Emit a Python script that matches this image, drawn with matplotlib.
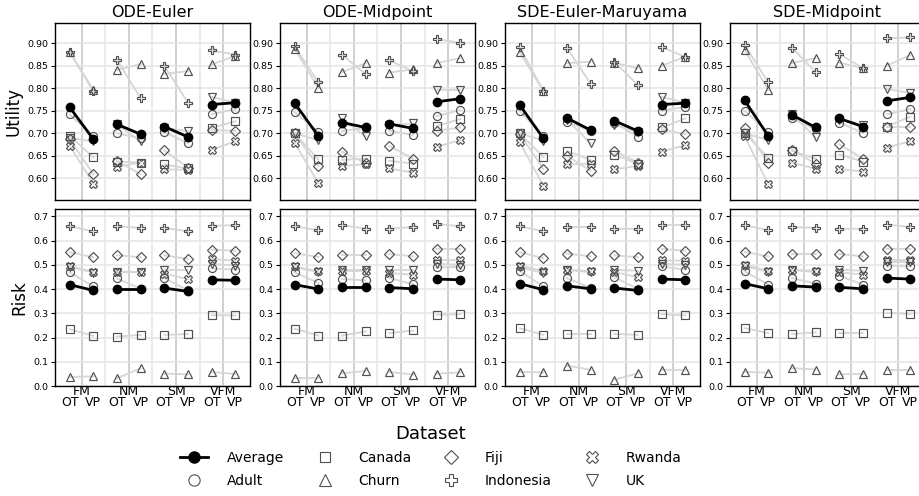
import matplotlib
matplotlib.use("Agg")
import matplotlib.pyplot as plt
from matplotlib.lines import Line2D

# columns: FM OT, FM VP, NM OT, NM VP, SM OT, SM VP, VFM OT, VFM VP
solvers = ["ODE-Euler", "ODE-Midpoint", "SDE-Euler-Maruyama", "SDE-Midpoint"]
datasets = ["Adult", "Canada", "Churn", "Fiji", "Indonesia", "Rwanda", "UK"]
groups = ["FM", "NM", "SM", "VFM"]
modes = ["OT", "VP"]

utility_ode_euler = {
    "Average":   [0.758, 0.687, 0.720, 0.698, 0.715, 0.692, 0.764, 0.768],
    "Adult":     [0.742, 0.693, 0.700, 0.689, 0.703, 0.678, 0.742, 0.754],
    "Canada":    [0.694, 0.647, 0.637, 0.635, 0.631, 0.622, 0.712, 0.727],
    "Churn":     [0.880, 0.797, 0.841, 0.854, 0.832, 0.838, 0.853, 0.872],
    "Fiji":      [0.687, 0.609, 0.639, 0.609, 0.662, 0.624, 0.707, 0.706],
    "Indonesia": [0.881, 0.793, 0.863, 0.778, 0.850, 0.768, 0.884, 0.875],
    "Rwanda":    [0.673, 0.588, 0.626, 0.635, 0.620, 0.619, 0.664, 0.682],
    "UK":        [0.690, 0.682, 0.720, 0.682, 0.712, 0.705, 0.781, 0.768],
}
utility_ode_midpoint = {
    "Average":   [0.767, 0.694, 0.724, 0.713, 0.721, 0.711, 0.770, 0.777],
    "Adult":     [0.747, 0.704, 0.705, 0.712, 0.706, 0.696, 0.738, 0.752],
    "Canada":    [0.700, 0.642, 0.641, 0.644, 0.639, 0.633, 0.716, 0.732],
    "Churn":     [0.888, 0.801, 0.836, 0.856, 0.835, 0.842, 0.856, 0.867],
    "Fiji":      [0.700, 0.627, 0.659, 0.634, 0.672, 0.644, 0.706, 0.713],
    "Indonesia": [0.893, 0.813, 0.874, 0.832, 0.862, 0.838, 0.909, 0.901],
    "Rwanda":    [0.679, 0.589, 0.628, 0.631, 0.622, 0.613, 0.670, 0.685],
    "UK":        [0.700, 0.685, 0.733, 0.693, 0.718, 0.722, 0.796, 0.796],
}
utility_sde_em = {
    "Average":   [0.763, 0.689, 0.734, 0.707, 0.728, 0.705, 0.764, 0.767],
    "Adult":     [0.750, 0.693, 0.726, 0.705, 0.724, 0.692, 0.750, 0.759],
    "Canada":    [0.700, 0.648, 0.661, 0.641, 0.653, 0.632, 0.713, 0.733],
    "Churn":     [0.880, 0.794, 0.856, 0.859, 0.857, 0.844, 0.850, 0.870],
    "Fiji":      [0.699, 0.621, 0.650, 0.617, 0.661, 0.635, 0.709, 0.698],
    "Indonesia": [0.891, 0.794, 0.890, 0.810, 0.859, 0.807, 0.891, 0.870],
    "Rwanda":    [0.680, 0.584, 0.631, 0.633, 0.620, 0.628, 0.659, 0.674],
    "UK":        [0.700, 0.684, 0.730, 0.678, 0.719, 0.703, 0.781, 0.768],
}
utility_sde_midpoint = {
    "Average":   [0.773, 0.694, 0.741, 0.713, 0.733, 0.715, 0.772, 0.780],
    "Adult":     [0.750, 0.702, 0.733, 0.709, 0.724, 0.701, 0.742, 0.754],
    "Canada":    [0.700, 0.646, 0.661, 0.644, 0.653, 0.637, 0.715, 0.737],
    "Churn":     [0.885, 0.796, 0.856, 0.867, 0.857, 0.845, 0.850, 0.874],
    "Fiji":      [0.711, 0.635, 0.664, 0.632, 0.676, 0.644, 0.715, 0.715],
    "Indonesia": [0.896, 0.813, 0.890, 0.836, 0.876, 0.845, 0.911, 0.913],
    "Rwanda":    [0.693, 0.587, 0.635, 0.621, 0.621, 0.615, 0.668, 0.683],
    "UK":        [0.700, 0.685, 0.742, 0.691, 0.730, 0.719, 0.798, 0.790],
}

risk_ode_euler = {
    "Average":   [0.418, 0.394, 0.401, 0.401, 0.404, 0.390, 0.438, 0.436],
    "Adult":     [0.469, 0.411, 0.444, 0.401, 0.445, 0.395, 0.485, 0.480],
    "Canada":    [0.234, 0.207, 0.204, 0.211, 0.211, 0.214, 0.292, 0.291],
    "Churn":     [0.037, 0.040, 0.032, 0.073, 0.051, 0.048, 0.058, 0.049],
    "Fiji":      [0.551, 0.531, 0.539, 0.531, 0.539, 0.524, 0.562, 0.558],
    "Indonesia": [0.659, 0.638, 0.659, 0.652, 0.652, 0.638, 0.661, 0.663],
    "Rwanda":    [0.496, 0.470, 0.470, 0.469, 0.463, 0.441, 0.524, 0.517],
    "UK":        [0.490, 0.468, 0.472, 0.470, 0.480, 0.477, 0.504, 0.496],
}
risk_ode_midpoint = {
    "Average":   [0.418, 0.400, 0.408, 0.408, 0.406, 0.401, 0.441, 0.438],
    "Adult":     [0.469, 0.425, 0.441, 0.436, 0.445, 0.420, 0.489, 0.491],
    "Canada":    [0.236, 0.208, 0.208, 0.225, 0.218, 0.229, 0.294, 0.296],
    "Churn":     [0.033, 0.033, 0.052, 0.062, 0.058, 0.047, 0.051, 0.056],
    "Fiji":      [0.548, 0.532, 0.539, 0.539, 0.544, 0.535, 0.566, 0.565],
    "Indonesia": [0.659, 0.642, 0.663, 0.649, 0.649, 0.655, 0.668, 0.659],
    "Rwanda":    [0.493, 0.473, 0.475, 0.475, 0.466, 0.459, 0.521, 0.518],
    "UK":        [0.490, 0.470, 0.477, 0.477, 0.480, 0.480, 0.504, 0.500],
}
risk_sde_em = {
    "Average":   [0.422, 0.397, 0.413, 0.401, 0.404, 0.394, 0.441, 0.438],
    "Adult":     [0.475, 0.411, 0.445, 0.405, 0.449, 0.400, 0.493, 0.480],
    "Canada":    [0.238, 0.211, 0.214, 0.214, 0.215, 0.211, 0.296, 0.291],
    "Churn":     [0.058, 0.056, 0.084, 0.067, 0.026, 0.052, 0.067, 0.066],
    "Fiji":      [0.551, 0.528, 0.546, 0.535, 0.539, 0.531, 0.565, 0.558],
    "Indonesia": [0.659, 0.638, 0.655, 0.655, 0.649, 0.648, 0.663, 0.663],
    "Rwanda":    [0.496, 0.475, 0.480, 0.473, 0.470, 0.449, 0.518, 0.517],
    "UK":        [0.490, 0.466, 0.478, 0.470, 0.480, 0.475, 0.504, 0.500],
}
risk_sde_midpoint = {
    "Average":   [0.422, 0.401, 0.413, 0.408, 0.407, 0.401, 0.445, 0.441],
    "Adult":     [0.473, 0.418, 0.445, 0.422, 0.455, 0.418, 0.496, 0.493],
    "Canada":    [0.239, 0.218, 0.215, 0.221, 0.218, 0.218, 0.302, 0.297],
    "Churn":     [0.058, 0.055, 0.074, 0.068, 0.048, 0.050, 0.065, 0.065],
    "Fiji":      [0.553, 0.535, 0.544, 0.544, 0.544, 0.535, 0.566, 0.565],
    "Indonesia": [0.663, 0.642, 0.656, 0.652, 0.648, 0.649, 0.666, 0.656],
    "Rwanda":    [0.500, 0.475, 0.480, 0.475, 0.469, 0.459, 0.521, 0.521],
    "UK":        [0.495, 0.470, 0.478, 0.470, 0.480, 0.475, 0.510, 0.510],
}

utility = [utility_ode_euler, utility_ode_midpoint, utility_sde_em, utility_sde_midpoint]
risk = [risk_ode_euler, risk_ode_midpoint, risk_sde_em, risk_sde_midpoint]

markers = {"Adult": "o", "Canada": "s", "Churn": "^", "Fiji": "D",
           "Indonesia": "P", "Rwanda": "X", "UK": "v"}
msizes = {"Adult": 5.8, "Canada": 5.6, "Churn": 6, "Fiji": 5.4,
          "Indonesia": 6, "Rwanda": 6, "UK": 6}
edge = "#505050"

W, H = 920, 496
fig = plt.figure(figsize=(W / 100, H / 100), dpi=100)


def draw_panel(ax, data, ylim, yticks, fmt):
    for x in [0.5, 2.5, 4.5, 6.5]:
        ax.axvline(x, color="#c4c4c4", lw=1.1, zorder=0)
    for x in [1.5, 3.5, 5.5]:
        ax.axvline(x, color="#e4e4e4", lw=1.1, zorder=0)
    for y in yticks:
        ax.axhline(y, color="#e4e4e4", lw=1.1, zorder=0)
    for g in range(4):
        xs = [2 * g, 2 * g + 1]
        for d in datasets:
            ys = data[d][2 * g:2 * g + 2]
            ax.plot(xs, ys, color="#d6d6d6", lw=1.3, zorder=1)
            ax.plot(xs, ys, ls="none", marker=markers[d], ms=msizes[d],
                    mfc="none", mec=edge, mew=0.85, zorder=2)
        ax.plot(xs, data["Average"][2 * g:2 * g + 2], color="black", lw=2,
                marker="o", ms=6, zorder=3)
    ax.set_xlim(-0.62, 7.62)
    ax.set_ylim(*ylim)
    ax.set_yticks(yticks)
    ax.set_yticklabels([fmt.format(v) for v in yticks])
    ax.tick_params(axis="y", labelsize=6.8, length=3, width=0.8, pad=2)
    ax.set_xticks(range(8))
    ax.set_xticklabels(modes * 4)
    ax.set_xticks([0.5, 2.5, 4.5, 6.5], minor=True)
    ax.set_xticklabels(groups, minor=True)
    ax.tick_params(axis="x", which="major", labelsize=9, length=0, pad=7.5)
    ax.tick_params(axis="x", which="minor", labelsize=9, length=0, pad=-0.5)
    for s in ax.spines.values():
        s.set_linewidth(1.0)


for i in range(4):
    left = (55 + 225 * i) / W
    w = 195 / W
    h = 177 / H
    ax_u = fig.add_axes([left, (H - 200) / H, w, h])
    ax_r = fig.add_axes([left, (H - 386) / H, w, h])
    draw_panel(ax_u, utility[i], (0.552, 0.945),
               [0.60, 0.65, 0.70, 0.75, 0.80, 0.85, 0.90], "{:.2f}")
    draw_panel(ax_r, risk[i], (0.0, 0.73),
               [0.0, 0.1, 0.2, 0.3, 0.4, 0.5, 0.6, 0.7], "{:.1f}")
    ax_u.set_xticklabels([])
    ax_u.set_xticklabels([], minor=True)
    ax_u.set_title(solvers[i], fontsize=11.5, pad=4)
    if i == 0:
        ax_u.set_ylabel("Utility", fontsize=12, labelpad=3)
        ax_r.set_ylabel("Risk", fontsize=12, labelpad=3)

handles = [Line2D([], [], color="black", lw=2, marker="o", ms=8)]
for d in datasets:
    handles.append(Line2D([], [], ls="none", marker=markers[d],
                          ms=msizes[d] * 1.4, mfc="none", mec=edge, mew=0.8))
labels = ["Average"] + datasets
fig.legend(handles, labels, ncol=4, loc="upper center",
           bbox_to_anchor=(0.468, 0.163), frameon=False, fontsize=10,
           title="Dataset", title_fontsize=13, handlelength=2,
           handletextpad=1.4, columnspacing=1.9, labelspacing=0.6,
           borderpad=0.2)

fig.savefig("out.png", dpi=100)
